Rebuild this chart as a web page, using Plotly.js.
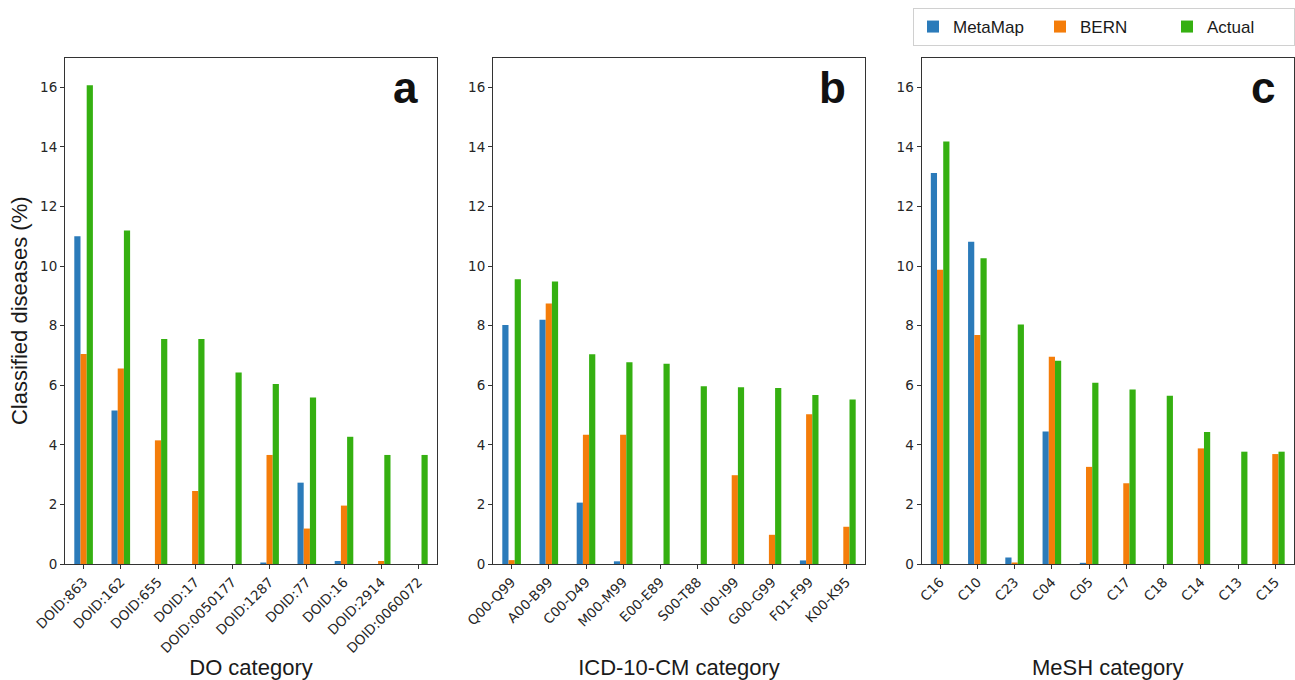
<!DOCTYPE html>
<html>
<head>
<meta charset="utf-8">
<script src="https://cdn.plot.ly/plotly-3.0.1.min.js"></script>
<style>html,body{margin:0;padding:0;background:#fff;}#chart{width:1295px;height:680px;}</style>
</head>
<body>
<div id="chart"></div>
<script>
// ---- data ----
const seriesNames = ['MetaMap', 'BERN', 'Actual'];

const doCats = ['DOID:863','DOID:162','DOID:655','DOID:17','DOID:0050177','DOID:1287','DOID:77','DOID:16','DOID:2914','DOID:0060072'];
const doMetaMap = [11.0, 5.15, 0, 0, 0, 0.05, 2.73, 0.1, 0, 0];
const doBern    = [7.05, 6.56, 4.15, 2.45, 0, 3.66, 1.19, 1.96, 0.1, 0];
const doActual  = [16.07, 11.19, 7.55, 7.55, 6.43, 6.04, 5.59, 4.27, 3.66, 3.66];

const icdCats = ['Q00-Q99','A00-B99','C00-D49','M00-M99','E00-E89','S00-T88','I00-I99','G00-G99','F01-F99','K00-K95'];
const icdMetaMap = [8.02, 8.2, 2.06, 0.09, 0, 0, 0, 0, 0.12, 0];
const icdBern    = [0.13, 8.74, 4.34, 4.34, 0, 0, 2.98, 0.98, 5.03, 1.25];
const icdActual  = [9.56, 9.48, 7.04, 6.77, 6.72, 5.97, 5.93, 5.91, 5.67, 5.52];

const meshCats = ['C16','C10','C23','C04','C05','C17','C18','C14','C13','C15'];
const meshMetaMap = [13.12, 10.82, 0.22, 4.45, 0.04, 0, 0, 0, 0, 0];
const meshBern    = [9.88, 7.69, 0.05, 6.96, 3.26, 2.71, 0, 3.88, 0, 3.69];
const meshActual  = [14.18, 10.26, 8.04, 6.82, 6.08, 5.86, 5.65, 4.43, 3.77, 3.77];

const yTickVals = [0, 2, 4, 6, 8, 10, 12, 14, 16];
const panelLetters = ['a', 'b', 'c'];
const xTitles = ['DO category', 'ICD-10-CM category', 'MeSH category'];
const yTitle = 'Classified diseases (%)';

// ---- styling ----
const colors = ['#2b7bba', '#f47d0a', '#35b011'];
const W = 1295, H = 680;
const panelsPx = [[65, 437], [493, 865], [921.5, 1294]];
const xTitleStandoff = [4, 34, 58];
const yTopPx = 57.5, yBotPx = 564;
const tickFont = {family: 'DejaVu Sans', size: 13.5, color: '#262626'};
const titleFont = {family: 'Liberation Sans, Arial', size: 22, color: '#1a1a1a'};

const panels = [
  {cats: doCats, vals: [doMetaMap, doBern, doActual]},
  {cats: icdCats, vals: [icdMetaMap, icdBern, icdActual]},
  {cats: meshCats, vals: [meshMetaMap, meshBern, meshActual]}
];

const traces = [];
const layout = {
  width: W, height: H,
  margin: {l: 0, r: 0, t: 0, b: 0, autoexpand: false},
  paper_bgcolor: '#fff', plot_bgcolor: '#fff',
  barmode: 'group', bargap: 0.5, bargroupgap: 0,
  showlegend: true,
  legend: {
    orientation: 'h', x: 1, y: 1 - 8 / H, xanchor: 'right', yanchor: 'top',
    bordercolor: '#d0d0d0', borderwidth: 1, bgcolor: '#fff',
    font: {family: 'Liberation Sans, Arial', size: 17, color: '#1a1a1a'},
    entrywidth: 82, itemwidth: 30
  },
  annotations: []
};

panels.forEach((p, i) => {
  const ax = i === 0 ? '' : String(i + 1);
  p.vals.forEach((v, s) => {
    traces.push({
      type: 'bar', x: p.cats, y: v, name: seriesNames[s],
      xaxis: 'x' + ax, yaxis: 'y' + ax,
      marker: {color: colors[s], line: {width: 0}},
      legendgroup: seriesNames[s], showlegend: i === 0,
      hoverinfo: 'x+y+name'
    });
  });
  const xd = [panelsPx[i][0] / W, panelsPx[i][1] / W];
  const yd = [(H - yBotPx) / H, (H - yTopPx) / H];
  layout['xaxis' + ax] = {
    domain: xd, anchor: 'y' + ax, type: 'category', automargin: false,
    range: [-0.5, 9.5], tickangle: -45,
    showline: true, linecolor: '#333', linewidth: 1, mirror: true,
    ticks: 'outside', ticklen: 4, tickcolor: '#333', tickwidth: 1,
    tickfont: tickFont, showgrid: false, zeroline: false,
    title: {text: xTitles[i], font: titleFont, standoff: xTitleStandoff[i]}
  };
  layout['yaxis' + ax] = {
    domain: yd, anchor: 'x' + ax, automargin: false,
    range: [0, 17], tickvals: yTickVals,
    showline: true, linecolor: '#333', linewidth: 1, mirror: true,
    ticks: 'outside', ticklen: 4, tickcolor: '#333', tickwidth: 1,
    tickfont: tickFont, showgrid: false, zeroline: false,
    title: i === 0 ? {text: yTitle, font: titleFont, standoff: 6} : {text: ''}
  };
  layout.annotations.push({
    xref: 'x' + ax + ' domain', yref: 'y' + ax + ' domain',
    x: 0.955, y: 0.889, xanchor: 'right', yanchor: 'bottom',
    text: '<b>' + panelLetters[i] + '</b>', showarrow: false,
    font: {family: 'Liberation Sans, Arial', size: 44, color: '#111'}
  });
});

Plotly.newPlot('chart', traces, layout, {displayModeBar: false, staticPlot: true});
</script>
</body>
</html>
